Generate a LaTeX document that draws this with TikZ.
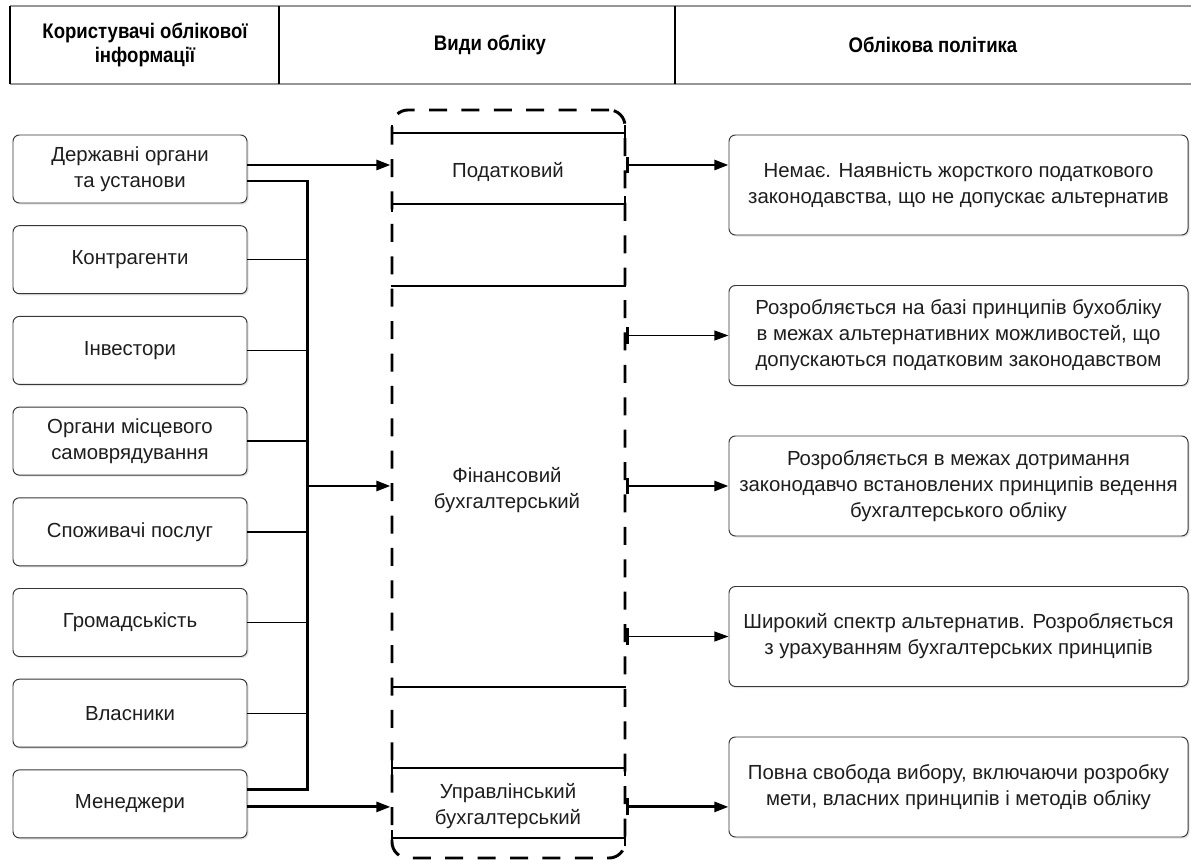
\documentclass[tikz,border=0pt]{standalone}
\usepackage{fontspec}
\setmainfont{Liberation Sans}
\newfontfamily\headfont{Liberation Sans}[FakeStretch=0.88]
\usepackage{tikz}
\usetikzlibrary{arrows.meta,positioning,calc,shadows}
\definecolor{boxgrey}{RGB}{55,55,55}
\definecolor{rulegrey}{RGB}{150,150,150}
\definecolor{textgrey}{RGB}{30,30,30}

\begin{document}
\begin{tikzpicture}[x=0.25mm, y=-0.25mm,
    font=\fontsize{14.5}{18.5}\selectfont, text=textgrey,
    user/.style={rectangle, rounded corners=1.6mm, draw=boxgrey, line width=0.7pt, fill=white,
                 minimum width=58.5mm, minimum height=17mm, align=center, inner sep=0pt,
                 drop shadow={shadow xshift=0.4mm, shadow yshift=-0.4mm, fill=black!22}},
    pol/.style={user, minimum width=114.75mm, minimum height=25mm},
    vidbox/.style={rectangle, draw, rounded corners=4mm, line width=2.1pt,
                   dash pattern=on 4.5mm off 3.6mm, minimum width=58.25mm, minimum height=187mm},
    head/.style={font=\headfont\fontsize{15}{17.5}\selectfont\bfseries, text=black, align=center},
    sect/.style={align=center},
    bus/.style={line width=2pt},
    link/.style={line width=1pt},
    arr/.style={-{Triangle[length=10pt,width=7pt]}, line width=2pt},
    outarr/.style={{Bar[width=12pt,line width=2pt]}-{Triangle[length=10pt,width=7pt]}},
    sep/.style={line width=0.8pt, {Bar[width=12pt,line width=2pt]}-{Bar[width=12pt,line width=2pt]}}]

    \useasboundingbox (0,0) rectangle (1191,863);

    % header
    \draw[line width=1.8pt, rulegrey] (10,6) -- (1191,6);
    \draw[line width=1.8pt, rulegrey] (10,84) -- (1191,84);
    \draw[line width=1.5pt] (10,6) -- (10,84);
    \draw[line width=0.8pt] (279,6) -- (279,84);
    \draw[line width=0.8pt] (675,6) -- (675,84);
    \node[head] (husers) at (145,45) {Користувачі облікової\\інформації};
    \node[head] (hkinds) at (490,45) {Види обліку};
    \node[head] (hpolicy) at (933,45) {Облікова політика};

    % users
    \foreach \t [count=\i] in {{Державні органи\\та установи}, Контрагенти, Інвестори,
        {Органи місцевого\\самоврядування}, {Споживачі послуг}, Громадськість, Власники, Менеджери}
        \node[user] (user\i) at (130,{169+90.7*(\i-1)}) {\t};

    % kinds of accounting
    \node[vidbox] (vid) at (508.5,484) {};
    \node[sect] (tax) at (508,172) {Податковий};
    \node[sect] (fin) at (507,490) {Фінансовий\\бухгалтерський};
    \node[sect] (mgt) at (508,806) {Управлінський\\бухгалтерський};
    \draw[sep] (vid.west |- 0,133) -- (vid.east |- 0,133);
    \draw[sep] (vid.west |- 0,204) -- (vid.east |- 0,204);
    \draw[line width=0.8pt] (vid.west |- 0,286) -- (vid.east |- 0,286);
    \draw[line width=0.8pt] (vid.west |- 0,687) -- (vid.east |- 0,687);
    \draw[sep] (vid.west |- 0,768) -- (vid.east |- 0,768);
    \draw[sep] (vid.west |- 0,838) -- (vid.east |- 0,838);

    % policies
    \foreach \t [count=\i] in {
        {Немає. Наявність жорсткого податкового\\законодавства, що не допускає альтернатив},
        {Розробляється на базі принципів бухобліку\\в межах альтернативних можливостей, що\\допускаються податковим законодавством},
        {Розробляється в межах дотримання\\законодавчо встановлених принципів ведення\\бухгалтерського обліку},
        {Широкий спектр альтернатив. Розробляється\\з урахуванням бухгалтерських принципів},
        {Повна свобода вибору, включаючи розробку\\мети, власних принципів і методів обліку}}
        \node[pol] (pol\i) at (958.5,{185+150.5*(\i-1)}) {\t};

    % users to kinds
    \coordinate (u1in) at ([yshift=1mm]user1.east);
    \coordinate (u1bus) at ([yshift=-3mm]user1.east);
    \coordinate (u8bus) at ([yshift=3.5mm]user8.east);
    \coordinate (u8in) at ([yshift=-0.75mm]user8.east);
    \coordinate (bustop) at ([xshift=15mm]u1bus);
    \draw[arr] (u1in) -- (u1in -| vid.west);
    \draw[bus] (u1bus) -- (bustop) -- (bustop |- u8bus) -- (u8bus);
    \foreach \i in {2,...,7}
        \draw[link] (user\i.east) -- (user\i.east -| bustop);
    \draw[arr] (bustop |- pol3) -- (vid.west |- pol3);
    \draw[arr] (u8in) -- (u8in -| vid.west);

    % kinds to policies
    \draw[outarr, line width=2pt] (vid.east |- u1in) -- (pol1.west |- u1in);
    \draw[outarr, line width=1pt] (vid.east |- pol2) -- (pol2.west);
    \draw[outarr, line width=2pt] (vid.east |- pol3) -- (pol3.west);
    \draw[outarr, line width=1pt] (vid.east |- pol4) -- (pol4.west);
    \draw[outarr, line width=2pt] (vid.east |- u8in) -- (pol5.west |- u8in);
\end{tikzpicture}
\end{document}
